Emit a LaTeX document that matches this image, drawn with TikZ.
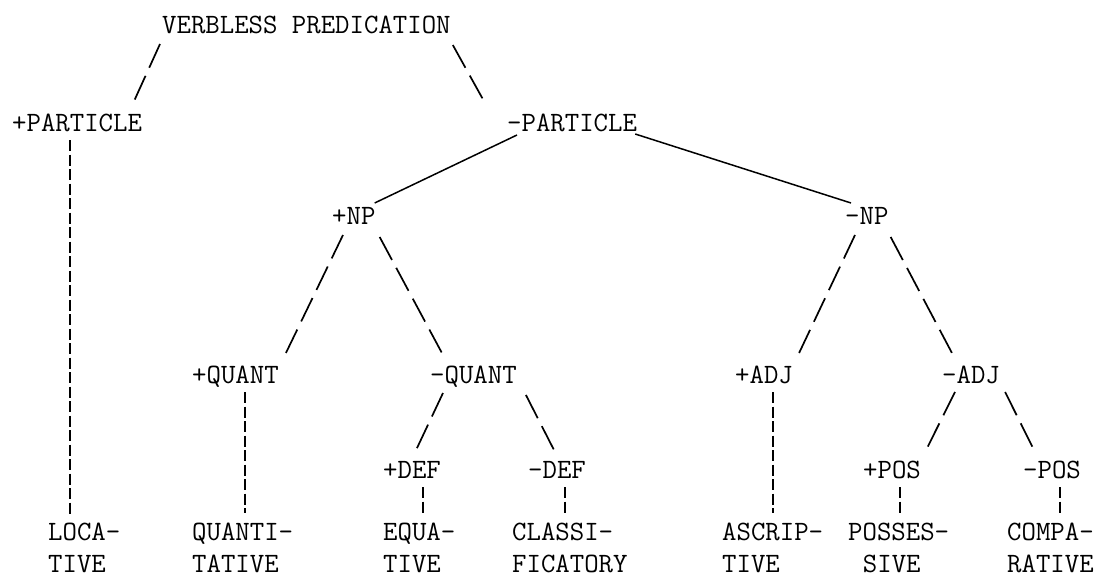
\documentclass[tikz,border=0pt]{standalone}
\usepackage{fontspec}
\usetikzlibrary{calc}
\newcommand\typeface{\fontsize{28}{32}\selectfont\ttfamily\addfontfeatures{FakeBold=0.5}}
\begin{document}
\begin{tikzpicture}[x=1pt,y=-1pt,
  lbl/.style={inner sep=0pt, anchor=base west, font=\typeface},
  leaf/.style={inner sep=0pt, anchor=north west, align=left, font=\typeface},
  slash/.style={line width=1.7pt, dash pattern=on 26pt off 9pt},
  tick/.style={line width=1.6pt, dash pattern=on 11pt off 3.5pt},
  branch/.style={line width=1.5pt}]
\useasboundingbox (0,0) rectangle (1107,578);

% tree labels
\node[lbl] (vp)   at (162,34)  {VERBLESS PREDICATION};
\node[lbl] (pp)   at (12,131)  {+PARTICLE};
\node[lbl] (mp)   at (507,131) {-PARTICLE};
\node[lbl] (pnp)  at (332,224) {+NP};
\node[lbl] (mnp)  at (845,224) {-NP};
\node[lbl] (pq)   at (192,383) {+QUANT};
\node[lbl] (mq)   at (430,383) {-QUANT};
\node[lbl] (pa)   at (735,383) {+ADJ};
\node[lbl] (ma)   at (942,383) {-ADJ};
\node[lbl] (pd)   at (383,478) {+DEF};
\node[lbl] (md)   at (528,478) {-DEF};
\node[lbl] (ppos) at (863,478) {+POS};
\node[lbl] (mpos) at (1023,478) {-POS};

% leaves
\node[leaf] (loc) at (48,523)  {LOCA-\\TIVE};
\node[leaf] (qua) at (192,523) {QUANTI-\\TATIVE};
\node[leaf] (equ) at (383,523) {EQUA-\\TIVE};
\node[leaf] (cls) at (512,523) {CLASSI-\\FICATORY};
\node[leaf] (asc) at (722,523) {ASCRIP-\\TIVE};
\node[leaf] (pos) at (848,523) {POSSES-\\\hspace*{0.525em}SIVE};
\node[leaf] (cmp) at (1007,523) {COMPA-\\RATIVE};

% typed slash branches
\draw[slash] ($(vp.base west)+(-2,10)$) -- ($(pp.base east)+(-9,-28)$);
\draw[slash] ($(vp.base east)+(2,11)$) -- ($(mp.base west)+(-22,-28)$);
\draw[slash] ($(pnp.base west)+(11,11)$) -- ($(pq.base east)+(7,-30)$);
\draw[slash] ($(pnp.base east)+(4,13)$) -- ($(mq.base west)+(13,-28)$);
\draw[slash] ($(mnp.base west)+(10,11)$) -- ($(pa.base east)+(6,-30)$);
\draw[slash] ($(mnp.base east)+(2,13)$) -- ($(ma.base west)+(11,-28)$);
\draw[slash] ($(mq.base west)+(13,10)$) -- ($(pd.base east)+(-25,-28)$);
\draw[slash] ($(mq.base east)+(9,12)$) -- ($(md.base west)+(27,-26)$);
\draw[slash] ($(ma.base west)+(13,9)$) -- ($(ppos.base east)+(5,-28)$);
\draw[slash] ($(ma.base east)+(5,9)$) -- ($(mpos.base west)+(12,-26)$);

% hand-drawn branches
\draw[branch] ($(mp.base west)+(10,4)$) -- ($(pnp.base east)+(-1,-21)$);
\draw[branch] ($(mp.base east)+(-2,3)$) -- ($(mnp.base west)+(6,-21)$);

% vertical typed bars
\draw[tick] ($(pp.base west)+(58,9)$) coordinate (t1) -- ($(t1 |- loc.north)+(0,-8)$);
\draw[tick] ($(pq.base west)+(53,9)$) coordinate (t2) -- ($(t2 |- qua.north)+(0,-10)$);
\draw[tick] ($(pa.base west)+(38,9)$) coordinate (t3) -- ($(t3 |- asc.north)+(0,-10)$);
\draw[tick] ($(pd.base west)+(40,9)$) coordinate (t4) -- ($(t4 |- equ.north)+(0,-10)$);
\draw[tick] ($(md.base west)+(37,9)$) coordinate (t5) -- ($(t5 |- cls.north)+(0,-10)$);
\draw[tick] ($(ppos.base west)+(37,9)$) coordinate (t6) -- ($(t6 |- pos.north)+(0,-10)$);
\draw[tick] ($(mpos.base west)+(37,9)$) coordinate (t7) -- ($(t7 |- cmp.north)+(0,-10)$);
\end{tikzpicture}
\end{document}
